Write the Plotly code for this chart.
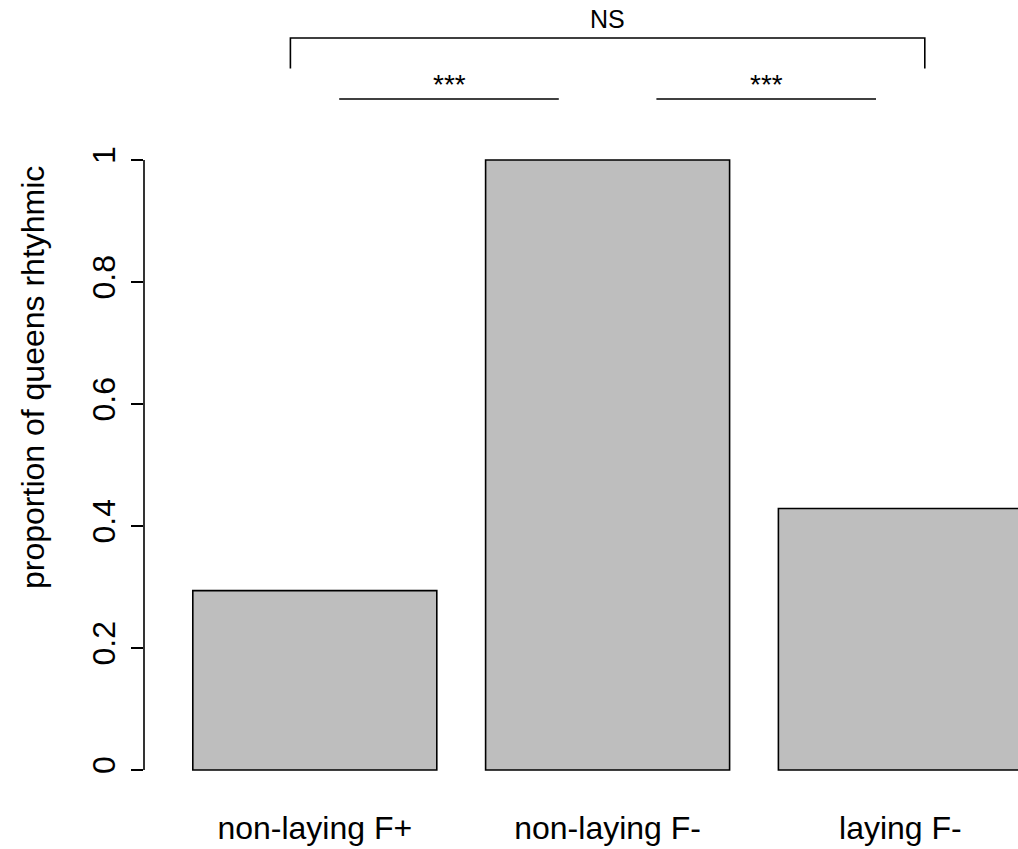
import plotly.graph_objects as go

# Groups and the proportion of queens showing rhythmic activity
groups = ["non-laying F+", "non-laying F-", "laying F-"]
proportions = [0.294, 1.0, 0.4286]
y_ticks = [0, 0.2, 0.4, 0.6, 0.8, 1.0]
y_tick_labels = ["0", "0.2", "0.4", "0.6", "0.8", "1"]

# Bar positions in barplot units (width 1, spacing 0.2)
bar_centers = [0.7, 1.9, 3.1]

# Significance comparisons: (x start, x end, y, label)
pair_tests = [(0.8, 1.7, 1.1, "***"), (2.1, 3.0, 1.1, "***")]
wide_test = (0.6, 3.2, 1.2, 1.15, "NS")

FONT = "Liberation Sans, Arial, Helvetica, sans-serif"

fig = go.Figure()
fig.add_trace(go.Bar(
    x=bar_centers,
    y=proportions,
    width=1.0,
    marker=dict(color="#BEBEBE", line=dict(color="black", width=1.6)),
    hoverinfo="skip",
))

shapes = []
annotations = []

# y axis line spanning only the tick range
shapes.append(dict(type="line", xref="paper", yref="y", x0=0, x1=0,
                   y0=y_ticks[0], y1=y_ticks[-1],
                   line=dict(color="black", width=1.6)))

for x0, x1, y, label in pair_tests:
    shapes.append(dict(type="line", xref="x", yref="y", x0=x0, x1=x1, y0=y, y1=y,
                       line=dict(color="black", width=1.6)))
    annotations.append(dict(x=(x0 + x1) / 2, y=y + 0.024, xref="x", yref="y",
                            text=label, showarrow=False, yanchor="middle",
                            font=dict(family=FONT, size=28, color="black")))

wx0, wx1, wy, wlow, wlabel = wide_test
shapes.append(dict(type="path", xref="x", yref="y",
                   path=f"M {wx0},{wlow} L {wx0},{wy} L {wx1},{wy} L {wx1},{wlow}",
                   line=dict(color="black", width=1.6)))
annotations.append(dict(x=(wx0 + wx1) / 2, y=wy + 0.031, xref="x", yref="y",
                        text=wlabel, showarrow=False, yanchor="middle",
                        font=dict(family=FONT, size=25, color="black")))

# y axis title
annotations.append(dict(x=0, y=0.6426, xref="paper", yref="y", xshift=-111,
                        text="proportion of queens rhtyhmic", textangle=-90,
                        showarrow=False, xanchor="center", yanchor="middle",
                        font=dict(family=FONT, size=32, color="black")))

fig.update_layout(
    width=1018,
    height=849,
    margin=dict(l=144, r=0, t=0, b=49),
    plot_bgcolor="white",
    paper_bgcolor="white",
    showlegend=False,
    shapes=shapes,
    annotations=annotations,
    font=dict(family=FONT, size=32, color="black"),
    xaxis=dict(
        range=[0, 874 / 244],
        tickvals=bar_centers,
        ticktext=groups,
        ticks="",
        showline=False,
        showgrid=False,
        zeroline=False,
        tickfont=dict(family=FONT, size=32, color="black"),
        ticklabelstandoff=6,
    ),
    yaxis=dict(
        range=[-30 / 610, 770 / 610],
        tickvals=y_ticks,
        ticktext=y_tick_labels,
        ticks="outside",
        ticklen=12,
        tickwidth=1.6,
        tickcolor="black",
        tickangle=-90,
        showline=False,
        showgrid=False,
        zeroline=False,
        tickfont=dict(family=FONT, size=32, color="black"),
        ticklabelstandoff=3,
    ),
)

fig.write_html("out.html")
